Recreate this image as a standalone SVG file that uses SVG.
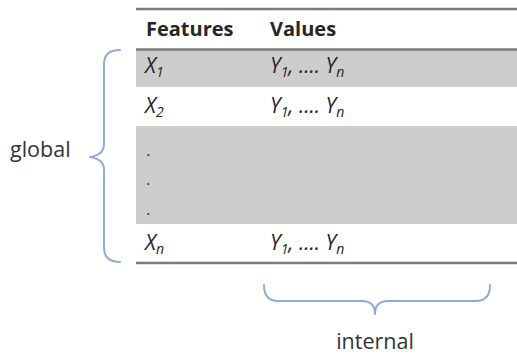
<svg xmlns="http://www.w3.org/2000/svg" width="517" height="354" viewBox="0 0 517 354">
  <style>
    .t { font-family: "Open Sans", "Liberation Sans", sans-serif; font-size: 20px; fill: #262626; }
    .h { font-weight: bold; }
    .i { font-style: italic; font-size: 21px; }
    .sub { font-size: 14px; }
    .dot { font-family: "Open Sans", "Liberation Sans", sans-serif; font-size: 17px; fill: #3a3a3a; }
    .lbl { font-family: "Open Sans", "Liberation Sans", sans-serif; font-size: 21.5px; fill: #333; }
    .rule { stroke: #7a7a7a; stroke-width: 2.5; }
    .shade { fill: #cdcdcd; }
    .brace { fill: none; stroke: #93abd3; stroke-width: 2; stroke-linecap: round; stroke-linejoin: round; }
  </style>
  <rect width="517" height="354" fill="#fff"/>
  <g id="table">
    <rect class="shade" x="136" y="50" width="381" height="37"/>
    <rect class="shade" x="136" y="126" width="381" height="98"/>
    <line class="rule" x1="136" y1="9" x2="517" y2="9"/>
    <line class="rule" x1="136" y1="49.5" x2="517" y2="49.5"/>
    <line class="rule" x1="136" y1="263" x2="517" y2="263"/>
    <text class="t h" x="146" y="36">Features</text>
    <text class="t h" x="270" y="36">Values</text>
    <text class="t i" x="145" y="73">X<tspan class="sub" dy="4">1</tspan></text>
    <text class="t i" x="270" y="73">Y<tspan class="sub" dy="4">1</tspan><tspan dy="-4">, .... Y</tspan><tspan class="sub" dy="4">n</tspan></text>
    <text class="t i" x="145" y="113">X<tspan class="sub" dy="4">2</tspan></text>
    <text class="t i" x="270" y="113">Y<tspan class="sub" dy="4">1</tspan><tspan dy="-4">, .... Y</tspan><tspan class="sub" dy="4">n</tspan></text>
    <text class="dot" x="146" y="156">.</text>
    <text class="dot" x="146" y="185">.</text>
    <text class="dot" x="146" y="215">.</text>
    <text class="t i" x="145" y="250">X<tspan class="sub" dy="4">n</tspan></text>
    <text class="t i" x="270" y="250">Y<tspan class="sub" dy="4">1</tspan><tspan dy="-4">, .... Y</tspan><tspan class="sub" dy="4">n</tspan></text>
  </g>
  <g id="global">
    <path class="brace" d="M120,50 Q104,50 104,64 L104,144 Q104,155 90,157 Q104,159 104,170 L104,248 Q104,262 120,262"/>
    <text class="lbl" x="10" y="157">global</text>
  </g>
  <g id="internal">
    <path class="brace" d="M264,285 Q264,301 278,301 L362,301 Q375,301 375,314 Q375,301 388,301 L476,301 Q490,301 490,285"/>
    <text class="lbl" x="375" y="349" text-anchor="middle">internal</text>
  </g>
</svg>
